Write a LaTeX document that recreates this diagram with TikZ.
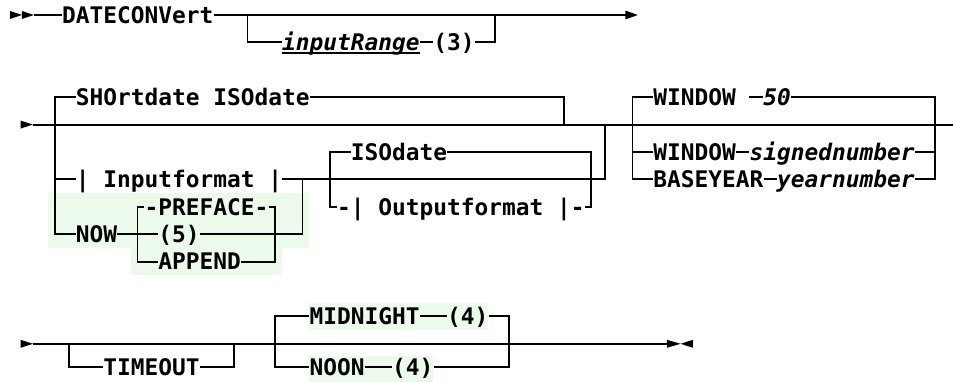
\documentclass[tikz,border=0pt]{standalone}
\usepackage{fontspec}
\setmonofont{DejaVu Sans Mono}
\usetikzlibrary{arrows.meta}
\definecolor{hilite}{RGB}{236,250,236}

\begin{document}
\begin{tikzpicture}[x=10.3125pt, y=-20.55pt,
  rail/.style={line width=1.4pt, black},
  kw/.style={inner sep=0pt, anchor=west, text height=12.49pt, text depth=0pt,
    font=\fontsize{17.13pt}{20pt}\selectfont\ttfamily\bfseries},
  var/.style={kw, font=\fontsize{17.13pt}{20pt}\selectfont\ttfamily\bfseries\itshape},
  hl/.style={fill=hilite, draw=none},
]
  \useasboundingbox (-1.498,-0.547) rectangle (67.81,13.358);

  \fill[hl] (2,6.5) rectangle (21,8.5);
  \fill[hl] (8,8.5) rectangle (19,9.5);
  \fill[hl] (21,10.5) rectangle (34,11.5);
  \fill[hl] (21,12.45) rectangle (30,13.5);

  % first line
  \fill (-0.77,-0.146) -- (0.1,0) -- (-0.77,0.146) -- cycle;
  \fill (0.1,-0.146) -- (0.97,0) -- (0.1,0.146) -- cycle;
  \coordinate (start1) at (0.97,0);
  \coordinate (end1) at (44.9,0);
  \node[kw] (dateconv) at (3,0) {DATECONVert};
  \node[var] (inrange) at (19,1) {inputRange};
  \node[kw] (three) at (30,1) {(3)};
  \draw[rail] (start1) -- (dateconv.west);
  \draw[rail, -{Triangle[length=9.4pt, width=6.2pt]}] (dateconv.east) -- (end1);
  \draw[rail] (16.5,0) |- (inrange.west);
  \draw[rail] (inrange.east) -- (three.west);
  \draw[rail] (three.east) -| (34.5,0);
  \draw[line width=1.2pt] ([yshift=-1.5pt]inrange.base west) -- ([yshift=-1.5pt]inrange.base east);

  % second line
  \fill (0,3.854) -- (0.9,4) -- (0,4.146) -- cycle;
  \coordinate (start2) at (0.9,4);
  \coordinate (end2) at (67.81,4);
  \draw[rail] (start2) -- (end2);
  \node[kw] (shortiso) at (4,3) {SHOrtdate ISOdate};
  \node[kw] (infmt) at (4,6) {| Inputformat |};
  \node[kw] (now) at (4,8) {NOW};
  \node[kw] (preface) at (9,7) {-PREFACE-};
  \node[kw] (five) at (10,8) {(5)};
  \node[kw] (append) at (10,9) {APPEND};
  \node[kw] (isodate) at (24,5) {ISOdate};
  \node[kw] (outfmt) at (23,7) {-| Outputformat |-};
  \draw[rail] (shortiso.west) -- (2.5,3) -- (2.5,8) -- (now.west);
  \draw[rail] (shortiso.east) -| (39.5,4);
  \draw[rail] (2.5,6) -- (infmt.west);
  \draw[rail] (infmt.east) -| (42.5,4);
  \draw[rail] (now.east) -- (five.west);
  \draw[rail] (preface.west) -- (8.5,7) -- (8.5,9) -- (append.west);
  \draw[rail] (preface.east) -- (18.5,7) -- (18.5,9) -- (append.east);
  \draw[rail] (five.east) -| (20.5,6);
  \draw[rail] (isodate.west) -- (22.5,5) -- (22.5,7) -- (outfmt.west);
  \draw[rail] (isodate.east) -- (41.5,5) -- (41.5,7) -- (outfmt.east);

  \node[kw] (win50) at (46,3) {WINDOW};
  \node[var] (fifty) at (54,3) {50};
  \node[kw] (winsig) at (46,5) {WINDOW};
  \node[var] (signum) at (53,5) {signednumber};
  \node[kw] (baseyr) at (46,6) {BASEYEAR};
  \node[var] (yearnum) at (55,6) {yearnumber};
  \coordinate (minus) at (53,3);
  \draw[rail] (minus) -- (fifty.west);
  \draw[rail] (win50.west) -- (44.5,3) -- (44.5,6) -- (baseyr.west);
  \draw[rail] (fifty.east) -- (66.5,3) -- (66.5,6) -- (yearnum.east);
  \draw[rail] (44.5,5) -- (winsig.west);
  \draw[rail] (winsig.east) -- (signum.west);
  \draw[rail] (signum.east) -- (66.5,5);
  \draw[rail] (baseyr.east) -- (yearnum.west);

  % third line
  \fill (0,11.854) -- (0.9,12) -- (0,12.146) -- cycle;
  \fill (47,11.854) -- (48,12) -- (47,12.146) -- cycle;
  \fill (48.9,11.854) -- (48,12) -- (48.9,12.146) -- cycle;
  \coordinate (start3) at (0.9,12);
  \coordinate (end3) at (47,12);
  \draw[rail] (start3) -- (end3);
  \node[kw] (timeout) at (6,12.85) {TIMEOUT};
  \node[kw] (midnight) at (21,11) {MIDNIGHT};
  \node[kw] (fourA) at (31,11) {(4)};
  \node[kw] (noon) at (21,12.85) {NOON};
  \node[kw] (fourB) at (27,12.85) {(4)};
  \draw[rail] (3.5,12) |- (timeout.west);
  \draw[rail] (timeout.east) -| (15.5,12);
  \draw[rail] (midnight.west) -- (18.5,11) -- (18.5,12.85) -- (noon.west);
  \draw[rail] (midnight.east) -- (fourA.west);
  \draw[rail] (noon.east) -- (fourB.west);
  \draw[rail] (fourA.east) -- (35.5,11) -- (35.5,12.85) -- (fourB.east);
\end{tikzpicture}
\end{document}
